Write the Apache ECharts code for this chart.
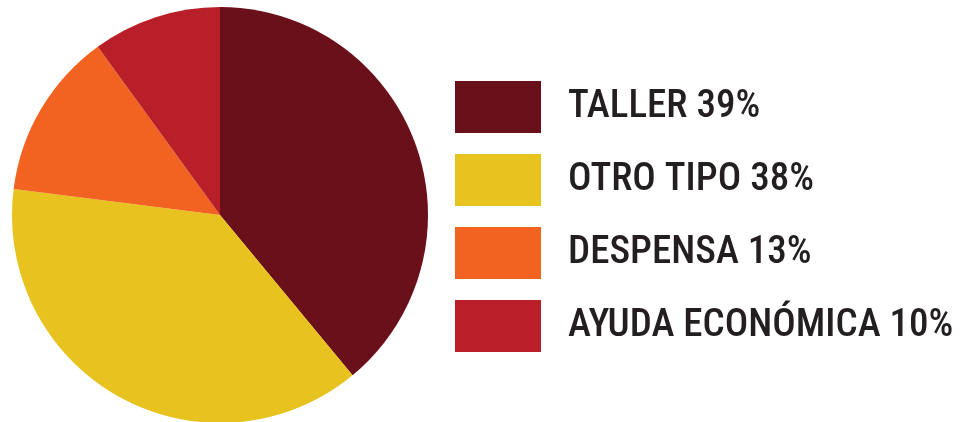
<!DOCTYPE html>
<html>
<head>
<meta charset="utf-8">
<script src="https://cdn.jsdelivr.net/npm/echarts@6/dist/echarts.min.js"></script>
<style>
  html, body { margin: 0; padding: 0; background: #ffffff; }
  #chart { width: 961px; height: 422px; }
</style>
</head>
<body>
<div id="chart"></div>
<script>
// Tipos de apoyo recibido (porcentaje)
const categories = ['TALLER', 'OTRO TIPO', 'DESPENSA', 'AYUDA ECONÓMICA'];
const values = [39, 38, 13, 10];
const colors = ['#6a101b', '#e8c21f', '#f26321', '#b91f29'];

const chart = echarts.init(document.getElementById('chart'), null, { renderer: 'canvas' });

const pieData = categories.map((name, i) => ({
  name: name,
  value: values[i],
  itemStyle: { color: colors[i] }
}));

chart.setOption({
  animation: false,
  backgroundColor: '#ffffff',
  legend: {
    orient: 'vertical',
    left: 455,
    top: 81,
    padding: 0,
    itemWidth: 86,
    itemHeight: 52,
    itemGap: 21,
    icon: 'rect',
    selectedMode: false,
    data: categories,
    formatter: function (name) {
      const i = categories.indexOf(name);
      return name + ' ' + values[i] + '%';
    },
    textStyle: {
      fontFamily: '"Roboto Condensed", Roboto, sans-serif',
      fontSize: 39,
      fontWeight: 500,
      color: '#231f20',
      lineHeight: 48,
      padding: [4, 0, 0, 22]
    }
  },
  series: [{
    type: 'pie',
    center: [220, 215],
    radius: 208,
    startAngle: 90,
    clockwise: true,
    label: { show: false },
    labelLine: { show: false },
    emphasis: { disabled: true },
    itemStyle: { borderWidth: 0 },
    data: pieData
  }]
});
</script>
</body>
</html>
